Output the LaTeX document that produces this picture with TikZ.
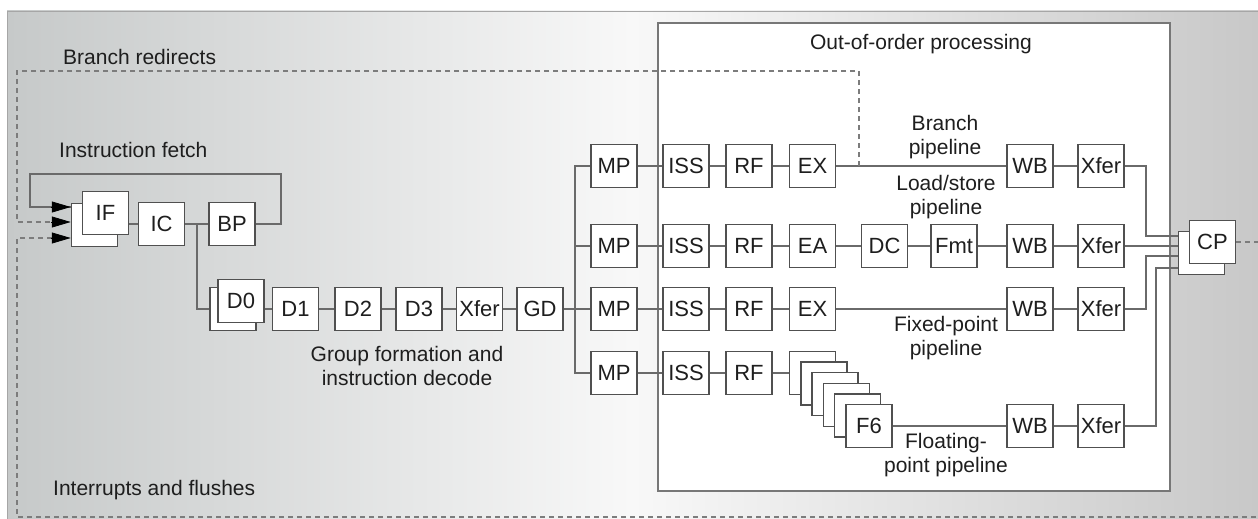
\documentclass[tikz,border=0pt]{standalone}
\usepackage{fontspec}
\setmainfont{Liberation Sans}
\usetikzlibrary{arrows.meta,calc}
\definecolor{boxc}{HTML}{505050}
\definecolor{linec}{HTML}{6A6A6A}
\definecolor{dashc}{HTML}{7C7C7C}
\definecolor{txtc}{HTML}{1E1E1E}
\definecolor{bgl}{HTML}{C6C9C9}
\definecolor{bgm}{HTML}{F8F8F8}
\definecolor{bgr}{HTML}{C8C8C8}
\definecolor{oooc}{HTML}{777777}
\begin{document}
\begin{tikzpicture}[x=1pt,y=-1pt,
 stage/.style={draw=boxc, fill=white, line width=1.5pt, minimum width=46pt, minimum height=43pt, inner sep=0pt, font=\fontsize{22}{24}\selectfont, text=txtc},
 conn/.style={draw=linec, line width=1.6pt},
 dsh/.style={draw=dashc, line width=2pt, dash pattern=on 5pt off 4pt},
 lbl/.style={font=\fontsize{21}{24}\selectfont, text=txtc, align=center, inner sep=0pt},
 tipa/.style={draw=black, fill=black, line width=0.8pt, -{Triangle[length=19pt,width=11pt]}}]
\useasboundingbox (0,0) rectangle (1258,519);
\clip (0,0) rectangle (1258,519);
\fill[white] (0,0) rectangle (1258,519);
\shade[left color=bgl, right color=bgr, middle color=bgm] (7,11) rectangle (1258,519);
\draw[gray!70, line width=0.8pt] (7,519) -- (7,11) -- (1258,11);

% out-of-order box
\node[draw=oooc, fill=white, line width=2pt, minimum width=512pt, minimum height=468pt, anchor=north west, inner sep=0pt] (ooo) at (657,22) {};
\node[lbl] (ooolbl) at (921,44) {Out-of-order processing};

% labels
\node[lbl, anchor=west] (brl) at (63,57) {Branch redirects};
\node[lbl, anchor=west] (ifl) at (59,150) {Instruction fetch};
\node[lbl, anchor=west] (intl) at (53,490) {Interrupts and flushes};
\node[lbl] (gfl) at (407,366) {Group formation and\\instruction decode};
\node[lbl] (bpl) at (945,137) {Branch\\pipeline};
\node[lbl] (lsl) at (946,197) {Load/store\\pipeline};
\node[lbl] (fxl) at (946,338) {Fixed-point\\pipeline};
\node[lbl] (fpl) at (946,455) {Floating-\\point pipeline};

% fetch
\node[stage] (IFb) at (94.5,225) {};
\node[stage] (IF) at (105.5,213) {IF};
\node[stage] (IC) at (161.5,224) {IC};
\node[stage] (BP) at (232,224) {BP};

% decode
\node[stage] (D0b) at (233,309) {};
\node[stage] (D0) at (241,301) {D0};
\node[stage] (D1) at (295.5,309) {D1};
\node[stage] (D2) at (358,309) {D2};
\node[stage] (D3) at (419,309) {D3};
\node[stage] (DX) at (479.5,309) {Xfer};
\node[stage] (GD) at (540,309) {GD};

% rows
\node[stage] (MP1) at (614,166) {MP};
\node[stage] (IS1) at (686,166) {ISS};
\node[stage] (RF1) at (749,166) {RF};
\node[stage] (EX1) at (812.5,166) {EX};
\node[stage] (WB1) at (1030,166) {WB};
\node[stage] (XF1) at (1101,166) {Xfer};

\node[stage] (MP2) at (614,246) {MP};
\node[stage] (IS2) at (686,246) {ISS};
\node[stage] (RF2) at (749,246) {RF};
\node[stage] (EA2) at (812.5,246) {EA};
\node[stage] (DC2) at (884.5,246) {DC};
\node[stage] (FM2) at (954,246) {Fmt};
\node[stage] (WB2) at (1030,246) {WB};
\node[stage] (XF2) at (1101,246) {Xfer};

\node[stage] (MP3) at (614,309) {MP};
\node[stage] (IS3) at (686,309) {ISS};
\node[stage] (RF3) at (749,309) {RF};
\node[stage] (EX3) at (812.5,309) {EX};
\node[stage] (WB3) at (1030,309) {WB};
\node[stage] (XF3) at (1101,309) {Xfer};

\node[stage] (MP4) at (614,373) {MP};
\node[stage] (IS4) at (686,373) {ISS};
\node[stage] (RF4) at (749,373) {RF};
\foreach \i in {1,...,5}
  \node[stage] (F\i) at ({812.5+11.3*(\i-1)},{373+10.6*(\i-1)}) {};
\node[stage] (F6) at (869,426) {F6};
\node[stage] (WB4) at (1030,426) {WB};
\node[stage] (XF4) at (1101,426) {Xfer};

% commit (anchor for incoming lines)
\coordinate (CPbw) at (1178.5,253);

% fetch connectors
\draw[conn] (IF.east |- IC.west) -- (IC.west);
\draw[conn] (IC) -- (BP);
\coordinate (j1) at ($(IC.east)!0.5!(BP.west)$);
\draw[conn] (j1) |- (D0b.west);
\coordinate (a1) at ($(IFb.west)+(0,-18)$);
\coordinate (a2) at ($(IFb.west)+(0,-3)$);
\coordinate (a3) at ($(IFb.west)+(0,13)$);
\draw[conn] (BP.east) -- (281,224) -- (281,174) -- (30,174) -- (30,207) -- (a1);

% decode connectors
\draw[conn] (D0.east |- D1.west) -- (D1.west);
\draw[conn] (D1) -- (D2);
\draw[conn] (D2) -- (D3);
\draw[conn] (D3) -- (DX);
\draw[conn] (DX) -- (GD);
\draw[conn] (GD) -- (MP3);
\coordinate (vt) at (575,166);
\coordinate (vb) at (575,373);
\draw[conn] (MP1.west) -- (vt) -- (vb) -- (MP4.west);
\draw[conn] (vt |- MP2.west) -- (MP2.west);

% row connectors
\draw[conn] (MP1) -- (IS1);
\draw[conn] (IS1) -- (RF1);
\draw[conn] (RF1) -- (EX1);
\draw[conn] (EX1) -- (WB1);
\draw[conn] (WB1) -- (XF1);
\draw[conn] (MP2) -- (IS2);
\draw[conn] (IS2) -- (RF2);
\draw[conn] (RF2) -- (EA2);
\draw[conn] (EA2) -- (DC2);
\draw[conn] (DC2) -- (FM2);
\draw[conn] (FM2) -- (WB2);
\draw[conn] (WB2) -- (XF2);
\draw[conn] (MP3) -- (IS3);
\draw[conn] (IS3) -- (RF3);
\draw[conn] (RF3) -- (EX3);
\draw[conn] (EX3) -- (WB3);
\draw[conn] (WB3) -- (XF3);
\draw[conn] (MP4) -- (IS4);
\draw[conn] (IS4) -- (RF4);
\draw[conn] (RF4.east) -- (F1.west |- RF4.east);
\draw[conn] (F6) -- (WB4);
\draw[conn] (WB4) -- (XF4);

% to CP
\draw[conn] (XF1.east) -- (1146,166) |- ($(CPbw)+(0,-17)$);
\draw[conn] (XF2.east) -- (CPbw |- XF2.east);
\draw[conn] (XF3.east) -- (1146,309) |- ($(CPbw)+(0,3)$);
\draw[conn] (XF4.east) -- (1156,426) |- ($(CPbw)+(0,15)$);
\node[stage] (CPb) at (1201.5,253) {};
\node[stage] (CP) at (1212.5,242) {CP};

% dashed feedback
\coordinate (br) at (859,166);
\draw[dsh] (br) -- (859,71) -- (17,71) -- (17,222) -- ($(a2)+(-16,0)$);
\draw[dsh] (CP.east) -- (1266,242) -- (1266,517) -- (17,517) -- (17,238) -- ($(a3)+(-16,0)$);

% arrow tips
\draw[tipa] ($(a1)+(-20,0)$) -- (a1);
\draw[tipa] ($(a2)+(-20,0)$) -- (a2);
\draw[tipa] ($(a3)+(-20,0)$) -- (a3);
\end{tikzpicture}
\end{document}
